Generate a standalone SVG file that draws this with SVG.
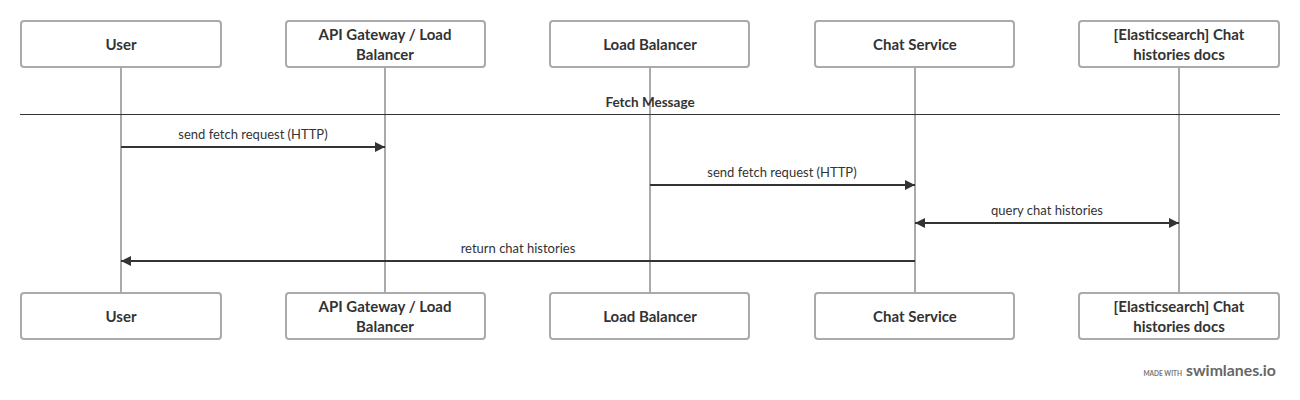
<svg xmlns="http://www.w3.org/2000/svg" width="1300" height="400" viewBox="0 0 1300 400">
<style>
.box{fill:#fff;stroke:#aaa;stroke-width:2}
.life{stroke:#aaa;stroke-width:2}
.nt{font-family:Lato,"Liberation Sans",sans-serif;font-size:15px;font-weight:bold;fill:#333;text-anchor:middle}
.msg{stroke:#333;stroke-width:2;fill:none}
.ml{font-family:Lato,"Liberation Sans",sans-serif;font-size:13px;fill:#333;text-anchor:middle}
</style>
<defs>
<marker id="ah" viewBox="0 0 10 10" refX="10" refY="5" markerWidth="10" markerHeight="10" markerUnits="userSpaceOnUse" orient="auto-start-reverse">
<path d="M0,0 L10,5 L0,10 z" fill="#333"/>
</marker>
</defs>
<rect width="1300" height="400" fill="#fff"/>
<g id="lifelines">
<line class="life" x1="121" y1="67" x2="121" y2="293"/>
<line class="life" x1="385" y1="67" x2="385" y2="293"/>
<line class="life" x1="650" y1="67" x2="650" y2="293"/>
<line class="life" x1="915" y1="67" x2="915" y2="293"/>
<line class="life" x1="1179" y1="67" x2="1179" y2="293"/>
</g>
<g id="section">
<line x1="20" y1="114.5" x2="1280" y2="114.5" stroke="#333" stroke-width="1"/>
<text x="650" y="107" font-family="Lato,'Liberation Sans',sans-serif" font-size="13.5" font-weight="bold" fill="#333" text-anchor="middle">Fetch Message</text>
</g>
<g id="user">
<rect class="box" x="21" y="21" width="200" height="46" rx="3"/>
<text class="nt" x="121" y="50">User</text>
<rect class="box" x="21" y="293" width="200" height="46" rx="3"/>
<text class="nt" x="121" y="322">User</text>
</g>
<g id="gateway">
<rect class="box" x="286" y="21" width="199" height="46" rx="3"/>
<text class="nt" x="385" y="40">API Gateway / Load</text>
<text class="nt" x="385" y="60">Balancer</text>
<rect class="box" x="286" y="293" width="199" height="46" rx="3"/>
<text class="nt" x="385" y="312">API Gateway / Load</text>
<text class="nt" x="385" y="332">Balancer</text>
</g>
<g id="lb">
<rect class="box" x="550" y="21" width="199" height="46" rx="3"/>
<text class="nt" x="650" y="50">Load Balancer</text>
<rect class="box" x="550" y="293" width="199" height="46" rx="3"/>
<text class="nt" x="650" y="322">Load Balancer</text>
</g>
<g id="chat">
<rect class="box" x="815" y="21" width="199" height="46" rx="3"/>
<text class="nt" x="915" y="50">Chat Service</text>
<rect class="box" x="815" y="293" width="199" height="46" rx="3"/>
<text class="nt" x="915" y="322">Chat Service</text>
</g>
<g id="es">
<rect class="box" x="1079" y="21" width="200" height="46" rx="3"/>
<text class="nt" x="1179" y="40">[Elasticsearch] Chat</text>
<text class="nt" x="1179" y="60">histories docs</text>
<rect class="box" x="1079" y="293" width="200" height="46" rx="3"/>
<text class="nt" x="1179" y="312">[Elasticsearch] Chat</text>
<text class="nt" x="1179" y="332">histories docs</text>
</g>
<g id="connectors">
<line class="msg" x1="121" y1="147" x2="385" y2="147" marker-end="url(#ah)"/>
<text class="ml" x="253" y="139">send fetch request (HTTP)</text>
<line class="msg" x1="650" y1="185" x2="915" y2="185" marker-end="url(#ah)"/>
<text class="ml" x="782" y="177">send fetch request (HTTP)</text>
<line class="msg" x1="915" y1="223" x2="1179" y2="223" marker-start="url(#ah)" marker-end="url(#ah)"/>
<text class="ml" x="1047" y="215">query chat histories</text>
<line class="msg" x1="915" y1="261" x2="121" y2="261" marker-end="url(#ah)"/>
<text class="ml" x="518" y="253">return chat histories</text>
</g>
<g id="footer">
<text x="1182" y="376" font-family="Lato,'Liberation Sans',sans-serif" font-size="6.5" font-weight="bold" fill="#777" text-anchor="end">MADE WITH</text>
<text x="1186" y="376" font-family="Lato,'Liberation Sans',sans-serif" font-size="15.8" font-weight="bold" fill="#666">swimlanes.io</text>
</g>
</svg>
